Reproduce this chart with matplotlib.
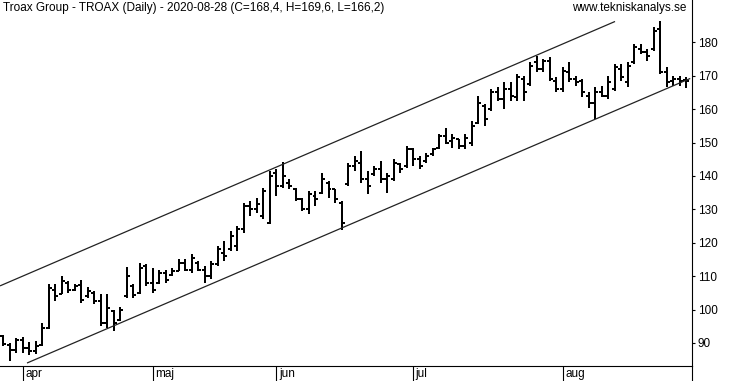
import matplotlib
matplotlib.use("Agg")
import matplotlib.pyplot as plt
from matplotlib.lines import Line2D
import numpy as np

plt.rcParams['font.family'] = ['Liberation Sans', 'DejaVu Sans']

# ---- data (daily OHLC, 2020-03-27 .. 2020-08-28) ----
highs = [92.4, 90.1, 91.6, 91.8, 90.3, 90.6, 96.1, 107.8, 107.6, 110.0,
         108.6, 107.7, 109.0, 106.8, 105.6, 104.6, 104.6, 100.0, 100.8, 112.8,
         107.7, 114.0, 113.7, 112.5, 112.0, 112.0, 112.5, 115.0, 115.0, 116.6,
         114.5, 113.0, 114.5, 119.0, 120.5, 123.5, 125.0, 132.0, 132.5, 133.5,
         136.5, 141.5, 142.0, 144.3, 139.0, 136.5, 133.5, 135.5, 135.5, 141.0,
         138.5, 136.0, 132.5, 144.0, 146.0, 147.5, 141.5, 143.0, 144.5, 141.0,
         145.0, 144.0, 149.0, 148.5, 146.0, 147.0, 148.5, 152.5, 154.5, 152.5,
         151.0, 152.5, 156.5, 164.0, 161.5, 166.0, 166.5, 168.0, 168.0, 170.5,
         170.0, 174.0, 176.0, 175.0, 175.5, 169.5, 172.5, 174.0, 170.0, 169.0,
         165.0, 166.5, 167.0, 170.0, 173.5, 173.5, 174.0, 179.5, 179.5, 178.0,
         184.5, 186.5, 172.5, 170.0, 170.0, 169.6]
lows = [89.1, 84.7, 87.1, 86.9, 86.4, 86.6, 89.1, 94.2, 102.6, 104.6,
        105.0, 105.6, 102.0, 103.6, 101.6, 95.1, 94.6, 93.6, 96.5, 103.5,
        103.5, 104.7, 107.0, 105.0, 107.7, 108.0, 110.0, 111.5, 111.5, 111.0,
        111.5, 108.0, 109.3, 113.0, 114.5, 117.5, 117.5, 123.0, 128.0, 129.0,
        127.0, 125.5, 134.0, 136.5, 136.0, 132.5, 129.5, 128.5, 131.0, 134.5,
        133.5, 132.0, 123.7, 137.0, 141.5, 138.0, 134.5, 140.0, 138.0, 135.0,
        138.5, 141.0, 142.5, 143.0, 142.0, 144.0, 146.0, 148.0, 149.5, 148.5,
        148.0, 148.0, 149.0, 155.5, 155.0, 159.5, 162.5, 160.0, 162.5, 162.5,
        162.5, 167.0, 171.0, 171.0, 168.5, 165.0, 165.0, 168.0, 167.0, 163.5,
        160.5, 157.0, 163.5, 163.0, 165.5, 168.5, 166.5, 173.5, 176.5, 174.5,
        177.5, 170.5, 166.5, 167.0, 167.0, 166.2]
opens = [92.0, 89.5, 88.0, 91.0, 88.5, 87.5, 89.5, 94.5, 106.0, 104.8,
         108.0, 106.0, 107.5, 104.0, 105.0, 102.5, 96.0, 99.5, 97.0, 104.0,
         107.0, 105.0, 113.0, 108.0, 108.0, 111.0, 110.5, 111.5, 114.0, 112.0,
         114.0, 112.0, 110.0, 113.5, 117.0, 118.0, 119.0, 124.0, 131.0, 130.0,
         128.0, 126.0, 141.0, 137.0, 138.0, 136.0, 133.0, 130.0, 134.0, 135.0,
         138.0, 136.0, 132.0, 137.5, 143.0, 144.0, 139.0, 140.5, 142.0, 139.0,
         139.0, 143.5, 143.0, 148.0, 145.0, 144.5, 146.5, 148.5, 152.0, 150.5,
         151.0, 149.0, 150.0, 156.0, 161.0, 160.0, 165.0, 163.0, 166.0, 163.5,
         169.0, 167.5, 174.0, 172.0, 174.5, 168.5, 166.0, 171.0, 169.0, 168.5,
         164.0, 162.0, 165.0, 164.0, 166.0, 172.0, 168.0, 174.0, 178.0, 177.0,
         178.0, 184.0, 171.0, 168.5, 169.0, 168.6]
closes = [89.8, 88.0, 91.0, 88.5, 87.5, 89.0, 94.4, 106.5, 104.0, 108.5,
          106.0, 107.0, 103.0, 105.5, 102.5, 96.0, 100.5, 96.0, 100.0, 110.0,
          104.5, 112.5, 108.0, 106.0, 111.0, 109.0, 111.5, 114.0, 112.0, 115.5,
          112.0, 110.0, 113.5, 118.0, 116.0, 122.0, 124.0, 131.0, 130.0, 131.5,
          135.5, 140.0, 137.0, 140.0, 137.0, 133.0, 130.0, 134.5, 133.0, 139.0,
          136.0, 133.0, 126.0, 143.0, 144.5, 139.0, 137.0, 142.0, 139.0, 140.0,
          144.0, 142.0, 148.0, 145.0, 143.0, 146.0, 148.0, 152.0, 150.0, 151.5,
          149.0, 151.5, 155.0, 162.0, 157.0, 165.0, 163.0, 166.0, 164.0, 169.5,
          165.0, 173.0, 172.0, 174.5, 169.0, 166.0, 171.5, 169.0, 168.0, 165.0,
          162.0, 165.0, 164.0, 168.0, 172.5, 169.5, 173.0, 178.5, 177.0, 176.0,
          183.5, 171.0, 168.0, 169.0, 168.5, 168.4]

month_labels = ['apr', 'maj', 'jun', 'jul', 'aug']
month_start_idx = [3, 23, 42, 63, 86]
y_ticks = [90, 100, 110, 120, 130, 140, 150, 160, 170, 180]

# trend channel (bar index, price) endpoints
channel_upper = [(-0.49, 107.1), (94.04, 186.26)]
channel_lower = [(3.66, 84.0), (105.6, 169.2)]

title = "Troax Group - TROAX (Daily) - 2020-08-28 (C=168,4, H=169,6, L=166,2)"
source = "www.tekniskanalys.se"

# ---- figure ----
W, H = 732, 381
fig = plt.figure(figsize=(W / 100, H / 100), dpi=100)
ax_left, ax_right, ax_top, ax_bottom = 0, 692, 0, 366
ax = fig.add_axes([ax_left / W, (H - ax_bottom) / H,
                   (ax_right - ax_left) / W, (ax_bottom - ax_top) / H])

x = np.arange(len(highs))
lw = 1.44
ax.vlines(x, lows, highs, colors='black', linewidth=lw, capstyle='butt')
tick = 0.46
ax.hlines(opens, x - tick, x, colors='black', linewidth=lw, capstyle='butt')
ax.hlines(closes, x, x + tick, colors='black', linewidth=lw, capstyle='butt')

for seg in (channel_upper, channel_lower):
    xs, ys = zip(*seg)
    ax.plot(xs, ys, color='#222222', linewidth=0.9, solid_capstyle='butt')

ax.set_xlim(-0.492, 105.87)
ax.set_ylim(83.11, 192.69)

for s in ('top', 'left'):
    ax.spines[s].set_visible(False)
for s in ('right', 'bottom'):
    ax.spines[s].set_color('black')
    ax.spines[s].set_linewidth(0.8)

ax.yaxis.tick_right()
ax.set_yticks(y_ticks)
ax.set_yticklabels([str(v) for v in y_ticks])
ax.tick_params(axis='y', direction='out', length=2.5, width=0.8, pad=1.5,
               labelsize=8.5, colors='black')

ax.set_xticks(month_start_idx)
ax.set_xticklabels([])
ax.tick_params(axis='x', direction='out', length=11, width=0.8)
for idx, lab in zip(month_start_idx, month_labels):
    ax.text(idx + 0.42, -8 / 366, lab, transform=ax.get_xaxis_transform(),
            ha='left', va='center', fontsize=8.5, color='black')

# extension of the right axis line down to the figure edge
fig.add_artist(Line2D([ax_right / W, ax_right / W], [0, (H - ax_bottom) / H],
                      transform=fig.transFigure, color='black', linewidth=0.8))

fig.text(3 / W, 1 - 7.5 / H, title, ha='left', va='center', fontsize=8.5)
fig.text(686 / W, 1 - 7.5 / H, source, ha='right', va='center', fontsize=8.5)

fig.savefig('out.png', dpi=100, facecolor='white')
